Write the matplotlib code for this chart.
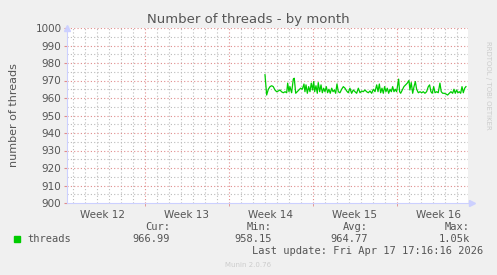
import numpy as np
import matplotlib.pyplot as plt
from matplotlib.ticker import MultipleLocator, FixedLocator

# days since start of the shown window
days = [16.50, 16.64, 16.78, 16.92, 17.06, 17.19, 17.33, 17.47, 17.61, 17.75, 17.89, 18.03,
        18.17, 18.31, 18.39, 18.50, 18.58, 18.72, 18.86, 18.94, 19.06, 19.19, 19.33, 19.47,
        19.61, 19.75, 19.83, 19.92, 20.03, 20.14, 20.25, 20.36, 20.47, 20.56, 20.64, 20.75,
        20.86, 20.94, 21.06, 21.17, 21.28, 21.39, 21.50, 21.61, 21.72, 21.83, 21.94, 22.06,
        22.17, 22.28, 22.39, 22.50, 22.61, 22.75, 22.89, 23.03, 23.17, 23.31, 23.44, 23.58,
        23.72, 23.86, 24.00, 24.14, 24.28, 24.42, 24.56, 24.69, 24.83, 24.97, 25.11, 25.25,
        25.39, 25.53, 25.67, 25.81, 25.92, 26.03, 26.14, 26.25, 26.36, 26.47, 26.58, 26.69,
        26.81, 26.92, 27.03, 27.14, 27.25, 27.36, 27.47, 27.56, 27.64, 27.72, 27.81, 27.94,
        28.08, 28.22, 28.36, 28.50, 28.58, 28.69, 28.81, 28.92, 29.03, 29.14, 29.28, 29.42,
        29.56, 29.69, 29.83, 29.97, 30.11, 30.22, 30.33, 30.44, 30.56, 30.67, 30.81, 30.94,
        31.08, 31.19, 31.31, 31.44, 31.58, 31.72, 31.86, 32.00, 32.14, 32.25, 32.36, 32.47,
        32.58, 32.69, 32.81, 32.92, 33.03, 33.14, 33.25]
threads = [973.3, 961.7, 965.0, 966.5, 967.0, 966.5, 964.6, 963.6, 964.0, 964.6, 963.5, 963.0,
           963.6, 963.0, 968.5, 963.6, 966.5, 963.0, 970.8, 971.3, 962.7, 963.6, 964.6, 965.6,
           965.0, 968.0, 963.6, 967.5, 962.7, 966.5, 963.6, 968.5, 964.6, 969.4, 963.6, 967.0,
           962.7, 968.8, 963.6, 967.5, 963.0, 965.6, 963.6, 966.5, 963.0, 965.0, 962.7, 965.6,
           963.6, 964.6, 962.7, 968.0, 963.6, 963.0, 965.0, 966.5, 965.6, 964.0, 963.0, 965.6,
           962.7, 964.6, 963.6, 962.7, 965.6, 963.0, 964.0, 963.6, 964.6, 963.6, 963.0, 964.0,
           962.7, 965.0, 963.6, 967.5, 963.6, 968.0, 963.0, 965.6, 962.7, 966.5, 963.6, 965.6,
           962.7, 965.0, 963.6, 966.5, 963.6, 965.0, 963.6, 967.5, 970.8, 963.6, 962.7, 964.6,
           966.5, 967.5, 968.5, 970.0, 964.6, 968.8, 962.7, 966.5, 969.4, 965.0, 963.0, 963.6,
           963.0, 963.6, 962.7, 963.6, 966.5, 967.5, 963.6, 962.7, 966.5, 963.0, 963.6, 963.0,
           968.5, 963.6, 962.7, 962.7, 962.3, 961.7, 962.7, 963.6, 962.7, 965.0, 962.7, 964.6,
           963.0, 963.6, 962.7, 966.5, 963.0, 965.6, 966.5]

week_pos = [3, 10, 17, 24, 31]
week_labels = ['Week 12', 'Week 13', 'Week 14', 'Week 15', 'Week 16']
week_bounds = [6.5, 13.5, 20.5, 27.5]
x_max = 33.42

W, H = 497, 275
fig = plt.figure(figsize=(W / 100, H / 100), dpi=100, facecolor='#F0F0F0')
ax = fig.add_axes([67 / W, (H - 203) / H, (468 - 67) / W, (203 - 28) / H])
ax.set_facecolor('white')

ax.set_xlim(0, x_max)
ax.set_ylim(900, 1000)

# grid: minor grey, major reddish
for d in np.arange(0.5, x_max, 1.0):
    if d not in week_bounds:
        ax.axvline(d, color='#bbbbbb', lw=0.8, ls=(0, (1, 2)), zorder=1)
for d in week_bounds:
    ax.axvline(d, color='#e08c8c', lw=0.8, ls=(0, (1, 2)), zorder=1)
for v in range(905, 1000, 10):
    ax.axhline(v, color='#bbbbbb', lw=0.8, ls=(0, (1, 2)), zorder=1)
for v in range(910, 1001, 10):
    ax.axhline(v, color='#e08c8c', lw=0.8, ls=(0, (1, 2)), zorder=1)

ax.plot(days, threads, color='#00CC00', lw=0.9, zorder=3)

ax.yaxis.set_major_locator(MultipleLocator(10))
ax.yaxis.set_minor_locator(MultipleLocator(5))
ax.xaxis.set_major_locator(FixedLocator(week_pos))
ax.set_xticklabels(week_labels)
ax.xaxis.set_minor_locator(FixedLocator(week_bounds))
ax.tick_params(axis='x', which='major', length=0, labelsize=7.5, colors='#555555', pad=5)
ax.tick_params(axis='x', which='minor', length=2, color='#e08c8c')
ax.tick_params(axis='y', which='major', length=2, color='#e08c8c', labelsize=7.5,
               labelcolor='#555555', pad=2)
ax.tick_params(axis='y', which='minor', length=0)

for s in ['top', 'right']:
    ax.spines[s].set_visible(False)
for s in ['left', 'bottom']:
    ax.spines[s].set_color('#ccd0ff')
    ax.spines[s].set_linewidth(0.8)
ax.plot(0, 1, marker='^', color='#ccd0ff', ms=4, transform=ax.transAxes, clip_on=False)
ax.plot(1.01, 0, marker='>', color='#ccd0ff', ms=4, transform=ax.transAxes, clip_on=False)

ax.set_ylabel('number of threads', fontsize=8, color='#555555', labelpad=12)
fig.text(248 / W, 1 - 19 / H, 'Number of threads - by month', ha='center', va='center',
         fontsize=9.5, color='#555555')
fig.text(488 / W, 1 - 85 / H, 'RRDTOOL / TOBI OETIKER', rotation=270, ha='center',
         va='center', fontsize=5, color='#cccccc')

mono = 'DejaVu Sans Mono'
fig.patches.append(plt.Rectangle((14 / W, 1 - 242 / H), 6 / W, 6 / H, color='#00CC00',
                                 transform=fig.transFigure))
fig.text(27 / W, 1 - 239 / H, 'threads', ha='left', va='center', fontsize=7.5,
         family=mono, color='#555555')
cols = [('Cur:', '966.99', 170), ('Min:', '958.15', 272), ('Avg:', '964.77', 368),
        ('Max:', '1.05k', 470)]
for head, val, xr in cols:
    fig.text(xr / W, 1 - 227 / H, head, ha='right', va='center', fontsize=7.5,
             family=mono, color='#555555')
    fig.text(xr / W, 1 - 239 / H, val, ha='right', va='center', fontsize=7.5,
             family=mono, color='#555555')
fig.text(483 / W, 1 - 251 / H, 'Last update: Fri Apr 17 17:16:16 2026', ha='right',
         va='center', fontsize=7.5, family=mono, color='#555555')
fig.text(248 / W, 1 - 265 / H, 'Munin 2.0.76', ha='center', va='center', fontsize=5,
         color='#cccccc')

fig.savefig('out.png', dpi=100, facecolor=fig.get_facecolor())
